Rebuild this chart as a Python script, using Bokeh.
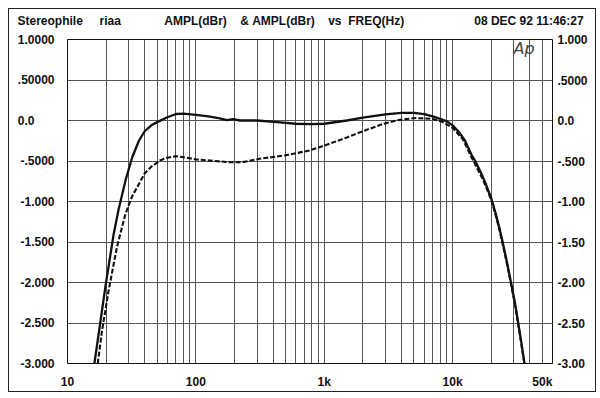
from bokeh.plotting import figure
from bokeh.models import FixedTicker, LinearAxis, Label
from bokeh.embed import file_html
from bokeh.resources import INLINE

# ---- data ----
freq_solid = [16.2, 17.8, 19.7, 22.9, 25, 28.3, 32, 36, 40, 45, 50, 60, 70, 80, 100,
              125, 150, 175, 195, 220, 300, 430, 600, 800, 1000, 1500, 2000, 3000,
              4000, 5000, 6000, 7000, 8000, 9000, 10000, 11300, 12500, 14000, 15000,
              16000, 17000, 18000, 19000, 20000, 21500, 23000, 25000, 27000, 28500,
              30500, 32000, 34000, 36300]
ampl_solid = [-3.0, -2.55, -2.06, -1.40, -1.10, -0.74, -0.45, -0.25, -0.13, -0.06, -0.02,
              0.04, 0.08, 0.085, 0.07, 0.05, 0.03, 0.005, 0.017, 0.0, 0.0, -0.02, -0.04,
              -0.045, -0.04, 0.0, 0.035, 0.075, 0.095, 0.095, 0.08, 0.05, 0.02, -0.01,
              -0.06, -0.15, -0.25, -0.42, -0.50, -0.59, -0.68, -0.77, -0.87, -0.96,
              -1.13, -1.31, -1.56, -1.81, -2.00, -2.24, -2.44, -2.70, -3.0]

freq_dashed = [17.2, 18.6, 20.9, 24.3, 28.3, 32, 35, 40, 45, 53, 60, 70, 85, 100, 130,
               185, 230, 320, 500, 770, 1000, 1500, 2100, 2900, 3900, 5200, 7000, 8400,
               10000, 12000, 14000, 16000, 17000, 18000, 19000, 20000, 21500, 23000,
               25000, 27000, 28500, 30500, 32000, 34000, 36200]
ampl_dashed = [-3.0, -2.59, -2.10, -1.56, -1.15, -0.93, -0.82, -0.65, -0.57, -0.49, -0.46,
               -0.44, -0.46, -0.48, -0.495, -0.515, -0.515, -0.47, -0.43, -0.37, -0.31,
               -0.21, -0.12, -0.04, 0.01, 0.03, 0.02, -0.02, -0.09, -0.23, -0.45, -0.63,
               -0.71, -0.80, -0.89, -0.98, -1.15, -1.33, -1.58, -1.83, -2.02, -2.26,
               -2.46, -2.72, -3.0]

y_ticks = [1.0, 0.5, 0.0, -0.5, -1.0, -1.5, -2.0, -2.5, -3.0]
left_labels = ["1.0000", ".50000", "0.0", "-.5000", "-1.000", "-1.500", "-2.000", "-2.500", "-3.000"]
right_labels = ["1.000", ".5000", "0.0", "-.500", "-1.00", "-1.50", "-2.00", "-2.50", "-3.00"]
x_ticks = [10, 100, 1000, 10000, 50000]
x_labels = ["10", "100", "1k", "10k", "50k"]

header_words = ["Stereophile", "riaa", "AMPL(dBr)", "&", "AMPL(dBr)", "vs", "FREQ(Hz)",
                "08 DEC 92 11:46:27"]
header_gaps = [5, 13, 4, 1, 4, 2, 21]   # non-breaking spaces between the words

FONT = "Liberation Sans"
INK = "#111111"
GRID = "#555555"
NBSP = "\u00a0"
FIGSP = "\u2007"

p = figure(width=588, height=384, x_axis_type="log", x_range=(10, 60000), y_range=(-3, 1),
           output_backend="svg", toolbar_location=None,
           min_border_left=58, min_border_right=45, min_border_top=30, min_border_bottom=30)
p.styles = {"border": "1px solid #222", "margin-left": "8px", "margin-top": "8px"}
p.background_fill_color = "white"
p.border_fill_color = "white"
p.outline_line_color = INK
p.outline_line_width = 1

# grid
grid_x = [m * 10 ** e for e in range(1, 5) for m in range(1, 10)] + [50000]
p.xgrid.ticker = FixedTicker(ticks=grid_x)
p.ygrid.ticker = FixedTicker(ticks=y_ticks)
for g in (p.xgrid, p.ygrid):
    g.grid_line_color = GRID
    g.grid_line_width = 1
    g.grid_line_alpha = 1.0

def style_axis(ax):
    ax.axis_line_color = None
    ax.major_tick_line_color = None
    ax.minor_tick_line_color = None
    ax.major_tick_out = 0
    ax.minor_tick_out = 0
    ax.major_label_text_font = FONT
    ax.major_label_text_font_style = "bold"
    ax.major_label_text_font_size = "12px"
    ax.major_label_text_color = INK

# bottom axis
xa = p.xaxis[0]
xa.ticker = FixedTicker(ticks=x_ticks)
xa.major_label_overrides = {float(t): s for t, s in zip(x_ticks, x_labels)}
style_axis(xa)
xa.major_label_standoff = 11

# left axis: labels padded with figure spaces so they line up on the left like the original
ya = p.yaxis[0]
ya.ticker = FixedTicker(ticks=y_ticks)
ya.major_label_overrides = {float(t): (s if len(s) >= 5 else s + FIGSP * (6 - len(s)))
                            for t, s in zip(y_ticks, left_labels)}
style_axis(ya)
ya.major_label_standoff = 13

# right axis
ra = LinearAxis(ticker=FixedTicker(ticks=y_ticks),
                major_label_overrides={float(t): s for t, s in zip(y_ticks, right_labels)})
style_axis(ra)
ra.major_label_standoff = 5
p.add_layout(ra, "right")

# curves
p.line(freq_solid, ampl_solid, line_color=INK, line_width=2.3)
p.line(freq_dashed, ampl_dashed, line_color=INK, line_width=2.1, line_dash="5 2")

# header line (one label so it occupies a single panel above the frame)
header_text = header_words[0]
for gap, word in zip(header_gaps, header_words[1:]):
    header_text += NBSP * gap + word
p.add_layout(Label(x=10, y=1.0, x_offset=-50, y_offset=19, text=header_text,
                   text_align="left", text_baseline="middle", text_font=FONT,
                   text_font_style="bold", text_font_size="12px", text_color=INK), "above")

p.add_layout(Label(x=446, y=315, x_units="screen", y_units="screen", text="Ap",
                   text_align="left", text_baseline="middle", text_font="DejaVu Sans",
                   text_font_style="italic", text_font_size="16px", text_color="#444444"))

open("out.html", "w").write(file_html(p, INLINE))
